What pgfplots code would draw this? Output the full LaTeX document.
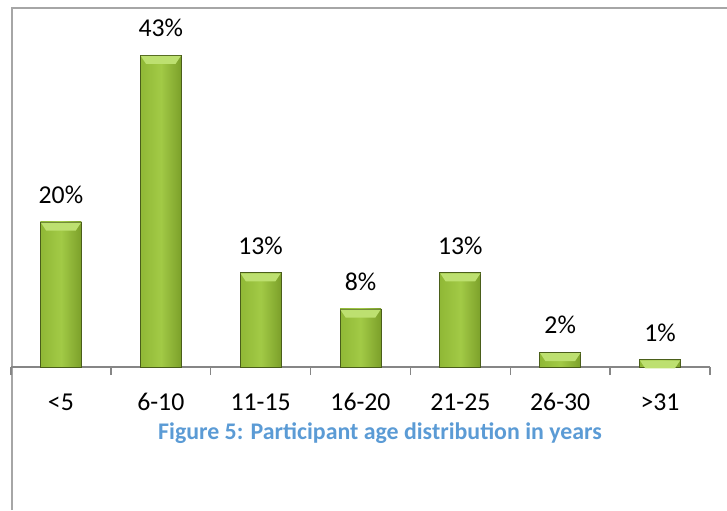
\documentclass[border=0pt]{standalone}
\usepackage{pgfplots}
\pgfplotsset{compat=1.18}
\usepackage{pgfplotstable}
\usepackage{fontspec}
\setmainfont{Carlito}

\definecolor{framegray}{HTML}{A6A6A6}
\definecolor{axisgray}{HTML}{868686}
\definecolor{barmid}{HTML}{A2CA46}
\definecolor{barleft}{HTML}{90B836}
\definecolor{barright}{HTML}{7CA02A}
\definecolor{bevellight}{HTML}{BDE070}
\definecolor{baroutline}{HTML}{4A5E1A}
\definecolor{capblue}{HTML}{5B9BD5}

% age groups and share of participants (%)
\pgfplotstableread{
x  share
0  20
1  43
2  13
3  8
4  13
5  2
6  1
}\agedata

\begin{document}
\begin{tikzpicture}[x=1pt,y=1pt]
\useasboundingbox (0,0) rectangle (545.25,382.5);
% chart frame
\draw[framegray, line width=1.1pt] (9,0) -- (9,376.5) -- (545.25,376.5);
\begin{axis}[
  at={(8.25pt,107.25pt)}, anchor=south west,
  scale only axis, width=524.25pt, height=269.25pt,
  xmin=-0.5, xmax=6.5, ymin=0, ymax=49.5,
  axis y line=none,
  axis x line*=bottom,
  axis line style={axisgray, line width=1pt, -},
  tick align=outside,
  xtick={0,...,6},
  xticklabels={<5,6-10,11-15,16-20,21-25,26-30,>31},
  major tick style={draw=none},
  extra x ticks={-0.5,0.5,1.5,2.5,3.5,4.5,5.5,6.5},
  extra x tick labels={},
  extra x tick style={major tick style={draw=axisgray, line width=1pt}, major tick length=6pt},
  xticklabel style={font=\fontsize{19.3}{23}\selectfont, anchor=base, yshift=-28.5pt},
  ybar, bar width=30.75pt, bar shift=0pt,
  /pgf/number format/assume math mode=true,
  clip=false,
]
% bars, one plot each so every bar gets its own shading
\pgfplotsinvokeforeach{0,...,6}{
  \addplot[draw=baroutline, line width=0.6pt,
    left color=barleft, right color=barright, middle color=barmid]
    table[x=x, y=share, restrict x to domain=#1:#1] {\agedata};
}
% light bevel on top of each bar
\addplot[draw=none, fill=none,
  nodes near coords={\tikz\fill[bevellight] (0pt,0pt) -- (30.15pt,0pt) -- (26.15pt,-6pt) -- (4pt,-6pt) -- cycle;},
  every node near coord/.style={anchor=north, inner sep=0pt, yshift=-0.3pt}]
  table[x=x, y=share] {\agedata};
% value labels
\addplot[draw=none, fill=none,
  nodes near coords={\pgfmathprintnumber{\pgfplotspointmeta}\%},
  every node near coord/.style={font=\fontsize{19.3}{23}\selectfont, anchor=base, yshift=14pt, text=black}]
  table[x=x, y=share] {\agedata};
\end{axis}
\node[font=\bfseries\fontsize{17.9}{21}\selectfont, text=capblue, anchor=base] at (285,52.5) {Figure 5: Participant age distribution in years};
\end{tikzpicture}
\end{document}
